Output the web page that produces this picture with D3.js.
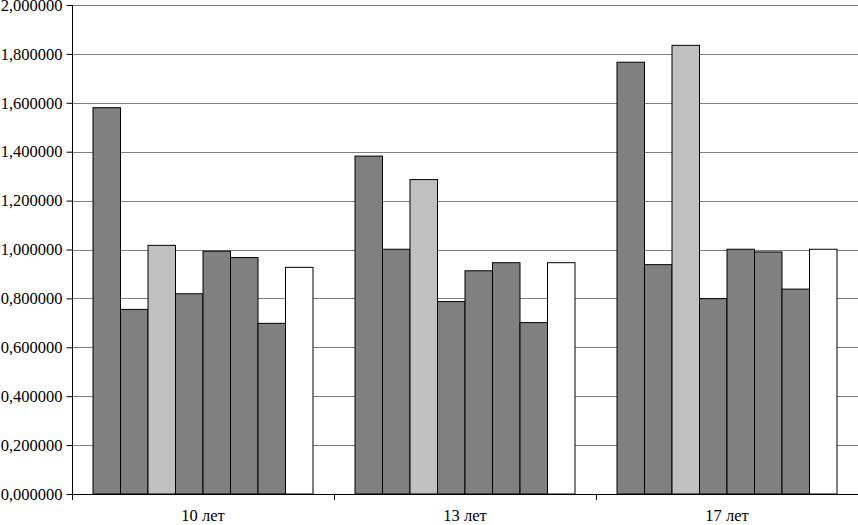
<!DOCTYPE html>
<html><head><meta charset="utf-8">
<script src="https://cdn.jsdelivr.net/npm/d3@7"></script>
<style>body{margin:0;background:#fff}svg{display:block}</style>
</head><body><svg id="c" width="858" height="525"></svg>
<script>
const categories = ["10 лет", "13 лет", "17 лет"];
const seriesNames = ["s1","s2","s3","s4","s5","s6","s7","s8"];
const seriesColors = ["#808080","#808080","#c0c0c0","#808080","#808080","#808080","#808080","#ffffff"];
const values = [
  [1.580, 0.755, 1.017, 0.819, 0.993, 0.967, 0.698, 0.927],
  [1.382, 1.001, 1.286, 0.787, 0.913, 0.946, 0.701, 0.946],
  [1.766, 0.938, 1.835, 0.799, 1.001, 0.990, 0.838, 1.001]
];
const yTicks = [0,0.2,0.4,0.6,0.8,1.0,1.2,1.4,1.6,1.8,2.0];

const svg = d3.select("#c");
const L = 72, R = 858, T = 5, B = 494;
const FONT = "Liberation Serif", FS = 16.5;
const x0 = d3.scaleBand().domain(categories).range([L, R]);
const x1 = d3.scaleBand().domain(seriesNames).range([21, x0.bandwidth()-21]);
const y = d3.scaleLinear().domain([0, 2]).range([B, T]);
const fmt = v => d3.format(".6f")(v).replace(".", ",");

// gridlines
svg.append("g").selectAll("line").data(yTicks.filter(d=>d>0)).join("line")
  .attr("x1", L).attr("x2", R).attr("y1", d=>Math.round(y(d))+0.5).attr("y2", d=>Math.round(y(d))+0.5)
  .attr("stroke", "#808080").attr("stroke-width", 1);

// bars
const g = svg.append("g").selectAll("g").data(values).join("g")
  .attr("transform", (d,i)=>`translate(${x0(categories[i])},0)`);
g.selectAll("rect").data(d=>d.map((v,j)=>({v, s:seriesNames[j], c:seriesColors[j]}))).join("rect")
  .attr("x", d=>x1(d.s)).attr("width", x1.bandwidth())
  .attr("y", d=>y(d.v)).attr("height", d=>B - y(d.v))
  .attr("fill", d=>d.c).attr("stroke", "#000").attr("stroke-width", 1);

// y axis
const ya = svg.append("g").attr("transform", `translate(${L+0.5},0)`)
  .call(d3.axisLeft(y).tickValues(yTicks).tickFormat(fmt).tickSize(6).tickPadding(4));
ya.selectAll("text").attr("fill", "#000").attr("font-family", FONT).attr("font-size", FS);
ya.selectAll("line,path").attr("stroke", "#000");
ya.select(".domain").attr("d", `M0,${T}V${B}`);

// x axis
svg.append("line").attr("x1", L).attr("x2", R).attr("y1", B+0.5).attr("y2", B+0.5).attr("stroke", "#000");
const bounds = [L, ...categories.map(c=>x0(c)+x0.bandwidth())];
svg.append("g").selectAll("line").data(bounds).join("line")
  .attr("x1", d=>Math.round(d)+0.5).attr("x2", d=>Math.round(d)+0.5)
  .attr("y1", B).attr("y2", B+6).attr("stroke", "#000");
svg.append("g").selectAll("text").data(categories).join("text")
  .attr("x", d=>x0(d)+x0.bandwidth()/2).attr("y", 521)
  .attr("text-anchor", "middle").attr("fill", "#000")
  .attr("font-family", FONT).attr("font-size", FS).text(d=>d);
</script></body></html>
